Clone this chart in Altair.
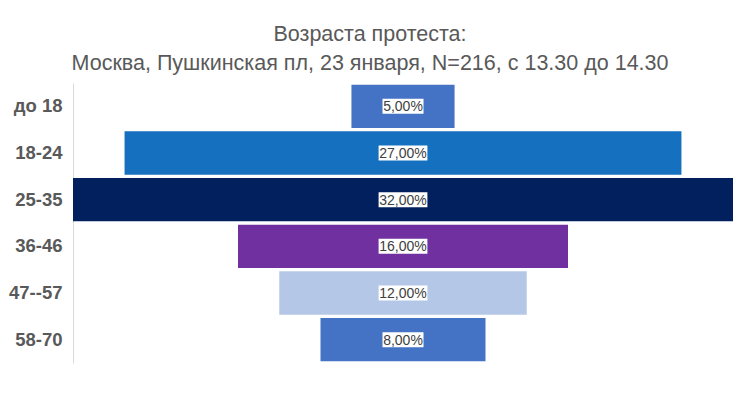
import altair as alt
import pandas as pd

categories = ["до 18", "18-24", "25-35", "36-46", "47--57", "58-70"]
values = [5, 27, 32, 16, 12, 8]
labels = ["5,00%", "27,00%", "32,00%", "16,00%", "12,00%", "8,00%"]
colors = ["#4472C4", "#1570BF", "#03205E", "#7030A0", "#B4C7E7", "#4472C4"]

title_lines = ["Возраста протеста:",
               "Москва, Пушкинская пл, 23 января, N=216, с 13.30 до 14.30"]

df = pd.DataFrame({"cat": categories, "v": values, "label": labels})

ycat = alt.Y("cat:N", sort=categories, title=None,
             scale=alt.Scale(paddingInner=0.07, paddingOuter=0.035),
             axis=alt.Axis(labelFont="Liberation Sans", labelFontWeight="bold",
                           labelFontSize=18.5, labelColor="#595959", labelPadding=11,
                           ticks=False, domainColor="#D9D9D9", grid=False))
xscale = alt.Scale(domain=[-16, 16], nice=False, zero=False)

base = alt.Chart(df).transform_calculate(
    lo="-datum.v/2", hi="datum.v/2",
    blo="-(length(datum.label)*3.9+1)/20.625",
    bhi="(length(datum.label)*3.9+1)/20.625",
)

bars = base.mark_bar().encode(
    y=ycat,
    x=alt.X("lo:Q", scale=xscale, axis=None),
    x2="hi:Q",
    color=alt.Color("cat:N", scale=alt.Scale(domain=categories, range=colors), legend=None),
)

boxes = base.mark_bar(size=15, color="white").encode(
    y=ycat,
    x=alt.X("blo:Q", scale=xscale, axis=None),
    x2="bhi:Q",
)

text = base.mark_text(font="Liberation Sans", fontSize=14, color="#404040",
                      align="center", baseline="middle", dy=1).encode(
    y=ycat,
    x=alt.value(330),
    text="label:N",
)

chart = alt.layer(bars, boxes, text).properties(
    width=660, height=280,
    background="white",
    title=alt.TitleParams(text=title_lines, font="Liberation Sans", fontSize=21.5,
                          fontWeight="normal", color="#595959", lineHeight=29,
                          anchor="middle", dx=-33, offset=9),
    autosize=alt.AutoSizeParams(type="none"),
    padding={"left": 65, "top": 75, "right": 5, "bottom": 10},
).configure_view(stroke=None)

chart.save("out.html", embed_options={"renderer": "svg", "actions": False})
